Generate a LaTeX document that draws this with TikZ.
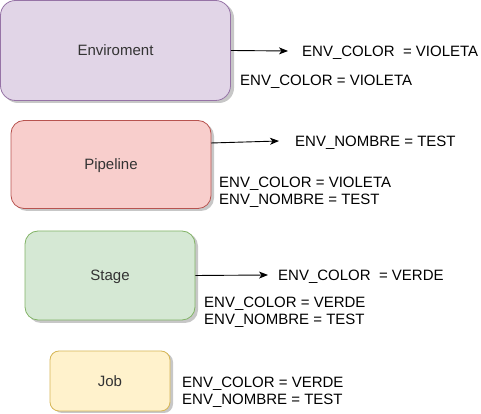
\documentclass[tikz,border=0pt]{standalone}
\usepackage{fontspec}
\setmainfont{Liberation Sans}
\usetikzlibrary{arrows.meta}
\definecolor{purpF}{HTML}{E1D5E7}\definecolor{purpD}{HTML}{9673A6}
\definecolor{redF}{HTML}{F8CECC}\definecolor{redD}{HTML}{B85450}
\definecolor{grnF}{HTML}{D5E8D4}\definecolor{grnD}{HTML}{82B366}
\definecolor{yelF}{HTML}{FFF2CC}\definecolor{yelD}{HTML}{D6B656}
\definecolor{txt}{HTML}{333333}
\tikzset{
  box/.style={draw, line width=0.8pt, rounded corners=#1, inner sep=0pt, text height=14pt, text depth=3pt, font=\fontsize{15}{17.25}\selectfont, text=txt},
  shad/.style={fill=black, opacity=0.22, rounded corners=#1},
  lbl/.style={anchor=west, inner sep=0pt, yshift=-2pt, align=left, font=\fontsize{15}{17.25}\selectfont},
  arr/.style={-{Stealth[length=9pt,width=7pt,inset=2.5pt]}, line width=0.9pt}
}
\begin{document}
\begin{tikzpicture}[x=1pt,y=1pt]
\useasboundingbox (0,0) rectangle (481,414);
% shadows
\fill[shad=15] (3,414-3) rectangle (234,414-103);
\fill[shad=13] (14,414-123) rectangle (214,414-211);
\fill[shad=13] (28,414-233) rectangle (198,414-323);
\fill[shad=9] (53,414-353) rectangle (173,414-413);
% boxes
\node[box=15, fill=purpF, draw=purpD, minimum width=230pt, minimum height=100pt] (env) at (115.5,414-50.5) {Enviroment};
\node[box=13, fill=redF, draw=redD, minimum width=200pt, minimum height=88pt] (pip) at (111,414-164.5) {Pipeline};
\node[box=13, fill=grnF, draw=grnD, minimum width=170pt, minimum height=89pt] (stg) at (110,414-275.5) {Stage};
\node[box=9, fill=yelF, draw=yelD, minimum width=120pt, minimum height=60pt] (job) at (110,414-381) {Job};
% labels
\node[lbl] (l1) at (302,414-51) {ENV\_COLOR\ \ = VIOLETA};
\node[lbl] (t1) at (240,414-80) {ENV\_COLOR = VIOLETA};
\node[lbl] (l2) at (295,414-141) {ENV\_NOMBRE = TEST};
\node[lbl] (t2) at (219,414-190.5) {ENV\_COLOR = VIOLETA\\ENV\_NOMBRE = TEST};
\node[lbl] (l3) at (278,414-275) {ENV\_COLOR\ \ = VERDE};
\node[lbl] (t3) at (204,414-310) {ENV\_COLOR = VERDE\\ENV\_NOMBRE = TEST};
\node[lbl] (t4) at (182,414-390.5) {ENV\_COLOR = VERDE\\ENV\_NOMBRE = TEST};
% arrows
\coordinate (a1) at (288,414-51);
\coordinate (a2) at (279,414-141);
\coordinate (a3) at (268,414-275);
\draw[arr] (env.east) -- (a1);
\draw[arr] (211,414-143) -- (a2);
\draw[arr] (stg.east) -- (a3);
\end{tikzpicture}
\end{document}
